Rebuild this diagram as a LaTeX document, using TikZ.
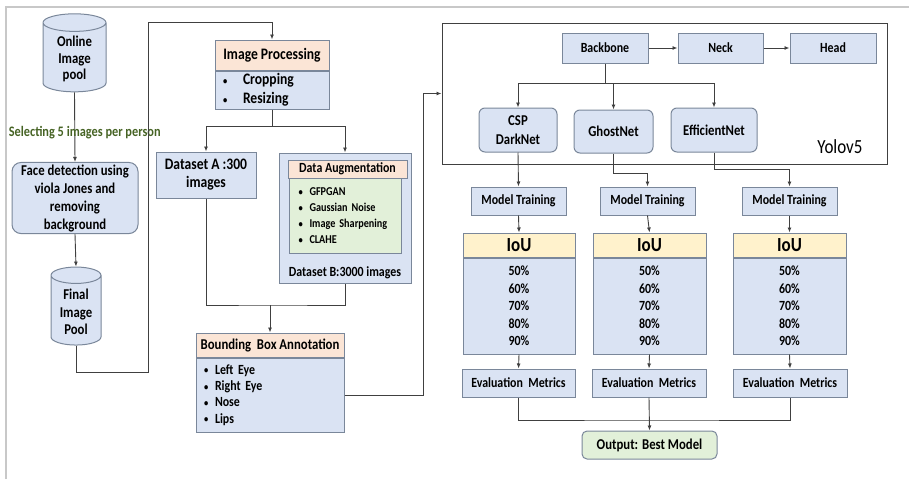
\documentclass[tikz,border=0pt]{standalone}
\usepackage{fontspec}
\setmainfont{Carlito}[FakeStretch=0.85]
\usetikzlibrary{shapes.geometric,arrows.meta}

\definecolor{boxblue}{HTML}{DAE3F3}
\definecolor{boxline}{HTML}{7A879A}
\definecolor{peach}{HTML}{FBE5D6}
\definecolor{iouhead}{HTML}{FFF2CC}
\definecolor{augreen}{HTML}{E2F0D9}
\definecolor{linegray}{HTML}{404040}
\definecolor{lblgreen}{HTML}{466324}
\definecolor{framegray}{HTML}{C8C8C8}

\newcommand{\blt}[2][12pt]{\makebox[#1][l]{\raisebox{0.5pt}{\fontsize{10}{10}\selectfont\textbullet}}#2}

\tikzset{
  box/.style={draw=boxline, line width=1pt, fill=boxblue, align=center, inner sep=2pt,
    font=\bfseries\fontsize{14}{16}\selectfont},
  rbox/.style={box, rounded corners=6pt},
  hdr/.style={box, fill=peach},
  db/.style={box, cylinder, shape border rotate=90, aspect=0.45},
  conn/.style={draw=linegray, line width=0.9pt},
  arr/.style={conn, -{Latex[length=5pt,width=4pt]}},
  lbl/.style={font=\bfseries\fontsize{14.5}{16}\selectfont, text=lblgreen},
}

\begin{document}
\begin{tikzpicture}[x=1pt, y=-1pt]
\useasboundingbox (0,0) rectangle (909,479);
% screenshot frame
\draw[framegray, line width=1.5pt] (6,479) -- (6,7) -- (909,7);

% left column
\node[db, minimum width=63pt, minimum height=78pt, font=\bfseries\fontsize{15}{16.5}\selectfont] (online) at (74.5,59) {Online\\Image\\pool};
\node[rbox, rounded corners=9pt, minimum width=126pt, minimum height=70pt, font=\bfseries\fontsize{15}{18}\selectfont] (face) at (75,198) {Face detection using\\viola Jones and\\removing\\background};
\node[db, minimum width=50pt, minimum height=78pt, font=\bfseries\fontsize{15}{17.5}\selectfont] (final) at (76,312) {Final\\Image\\Pool};
\draw[arr] (online.south) -- node[lbl, pos=0.58, xshift=10pt] {Selecting 5 images per person} (face.north);
\draw[arr] (face.south) -- (final.north);

% image processing and datasets
\node[hdr, minimum width=114pt, minimum height=30pt, font=\bfseries\fontsize{16}{18}\selectfont] (ipHead) at (272,55) {Image Processing};
\node[box, anchor=north, minimum width=114pt, minimum height=38pt, text width=98pt, inner xsep=8pt, align=left, font=\bfseries\fontsize{16}{19}\selectfont] (ipBody) at (ipHead.south) {\blt[20pt]{Cropping}\\\blt[20pt]{Resizing}};
\node[box, minimum width=100pt, minimum height=46pt, font=\bfseries\fontsize{16}{18}\selectfont] (dsA) at (206,175) {Dataset A :300\\images};
\node[box, minimum width=132pt, minimum height=130pt] (dsB) at (345,218) {};
\node[hdr, minimum width=119pt, minimum height=18pt, inner sep=1pt] (daHead) at (347.5,169) {Data Augmentation};
\node[box, fill=augreen, anchor=north, minimum width=111pt, minimum height=75pt, text width=94pt, inner xsep=9pt, align=left, font=\bfseries\fontsize{12}{16}\selectfont] (daList) at (345.5,178) {\blt[11pt]{GFPGAN}\\\blt[11pt]{Gaussian Noise}\\\blt[11pt]{Image Sharpening}\\\blt[11pt]{CLAHE}};
\node[font=\bfseries\fontsize{14}{16}\selectfont] (dsBLbl) at (345,273) {Dataset B:3000 images};

\draw[conn] (ipBody.south) -- ++(0,17) coordinate (ipSplit);
\draw[arr] (ipSplit) -| (dsA.north);
\draw[arr] (ipSplit) -| (dsB.north);

% loop from the final pool to image processing
\coordinate (loopL) at (148,372);
\coordinate (loopT) at (148,22);
\draw[arr] (final.south) |- (loopL) -- (loopT) -| (ipHead.north);

% bounding box annotation
\node[hdr, minimum width=148pt, minimum height=24pt, font=\bfseries\fontsize{15}{16}\selectfont] (bbaHead) at (270,345) {Bounding\ \ Box Annotation};
\node[box, anchor=north, minimum width=148pt, minimum height=74pt, text width=132pt, inner xsep=8pt, align=left, font=\bfseries\fontsize{14}{16.3}\selectfont] (bbaBody) at (bbaHead.south) {\blt[11pt]{Left Eye}\\\blt[11pt]{Right Eye}\\\blt[11pt]{Nose}\\\blt[11pt]{Lips}};
\coordinate (joinAB) at (270,305);
\draw[conn] (dsA.south) |- (joinAB) -| (dsB.south);
\draw[arr] (joinAB) -- (bbaHead.north);

% yolov5
\node[draw=linegray, line width=1pt, minimum width=445pt, minimum height=141pt] (yolo) at (664.5,93.5) {};
\node[font=\fontsize{20}{22}\selectfont] (yoloLbl) at (840,147) {Yolov5};
\draw[arr] (bbaBody.east) -- ++(79,0) |- (yolo.west);

\node[box, minimum width=86pt, minimum height=30pt] (backbone) at (605,48) {Backbone};
\node[box, minimum width=85pt, minimum height=30pt] (neck) at (720.5,48) {Neck};
\node[box, minimum width=86pt, minimum height=30pt] (head) at (833,48) {Head};
\draw[arr] (backbone.east) -- (neck.west);
\draw[arr] (neck.east) -- (head.west);

\node[rbox, minimum width=78pt, minimum height=44pt, font=\bfseries\fontsize{15}{19}\selectfont] (csp) at (518,130) {CSP\\DarkNet};
\node[rbox, minimum width=79pt, minimum height=43pt, font=\bfseries\fontsize{15}{19}\selectfont] (ghost) at (613.5,131.5) {GhostNet};
\node[rbox, minimum width=86pt, minimum height=44pt, font=\bfseries\fontsize{15}{19}\selectfont] (eff) at (714,130) {EfficientNet};
\draw[conn] (backbone.south) -- ++(0,20) coordinate (bbSplit);
\draw[arr] (bbSplit) -| (csp.north);
\draw[arr] (bbSplit) -- (ghost.north |- bbSplit) -- (ghost.north);
\draw[arr] (bbSplit) -| (eff.north);

% training columns
\node[box, minimum width=95pt, minimum height=28pt] (mt1) at (518.5,201) {Model Training};
\node[box, minimum width=95pt, minimum height=28pt] (mt2) at (647.5,201) {Model Training};
\node[box, minimum width=95pt, minimum height=28pt] (mt3) at (789.5,201) {Model Training};
\draw[arr] (csp.south) -- (mt1.north);
\draw[arr] (ghost.south) -- ++(0,20) -| (mt2.north);
\draw[arr] (eff.south) -- ++(0,17) -| (mt3.north);

\node[box, fill=iouhead, minimum width=112pt, minimum height=24pt, font=\bfseries\fontsize{20}{22}\selectfont] (iou1) at (519,245) {IoU};
\node[box, fill=iouhead, minimum width=113pt, minimum height=24pt, font=\bfseries\fontsize{20}{22}\selectfont] (iou2) at (649.5,245) {IoU};
\node[box, fill=iouhead, minimum width=113pt, minimum height=24pt, font=\bfseries\fontsize{20}{22}\selectfont] (iou3) at (789.5,245) {IoU};
\node[box, anchor=north, minimum width=112pt, minimum height=96pt, font=\bfseries\fontsize{14}{17.5}\selectfont] (th1) at (iou1.south) {50\%\\60\%\\70\%\\80\%\\90\%};
\node[box, anchor=north, minimum width=113pt, minimum height=96pt, font=\bfseries\fontsize{14}{17.5}\selectfont] (th2) at (iou2.south) {50\%\\60\%\\70\%\\80\%\\90\%};
\node[box, anchor=north, minimum width=113pt, minimum height=96pt, font=\bfseries\fontsize{14}{17.5}\selectfont] (th3) at (iou3.south) {50\%\\60\%\\70\%\\80\%\\90\%};
\draw[arr] (mt1.south) -- (iou1.north);
\draw[arr] (mt2.south) -- (iou2.north);
\draw[arr] (mt3.south) -- (iou3.north);

\node[box, minimum width=113pt, minimum height=28pt] (em1) at (518.5,383) {Evaluation\ \ Metrics};
\node[box, minimum width=114pt, minimum height=28pt] (em2) at (649,383) {Evaluation\ \ Metrics};
\node[box, minimum width=114pt, minimum height=28pt] (em3) at (790,383) {Evaluation\ \ Metrics};
\draw[arr] (th1.south) -- (em1.north);
\draw[arr] (th2.south) -- (em2.north);
\draw[arr] (th3.south) -- (em3.north);

% output
\node[rbox, rounded corners=5pt, fill=augreen, minimum width=135pt, minimum height=28pt, font=\bfseries\fontsize{15}{16}\selectfont] (out) at (649.5,445) {Output: Best Model};
\coordinate (outJoin) at (649,420);
\draw[conn] (em1.south) |- (outJoin) -| (em3.south);
\draw[arr] (em2.south) -- (out.north);
\end{tikzpicture}
\end{document}
